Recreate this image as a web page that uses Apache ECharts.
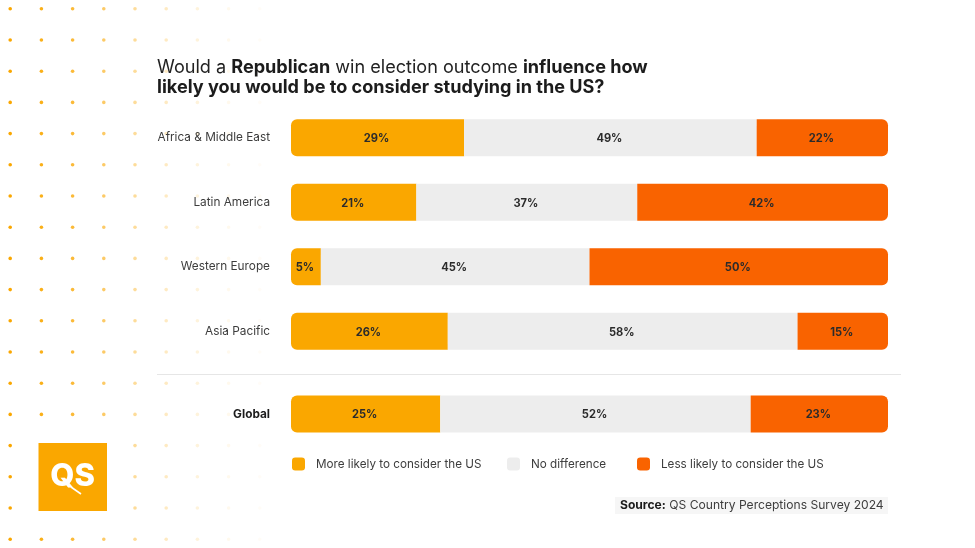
<!DOCTYPE html>
<html><head><meta charset="utf-8">
<style>html,body{margin:0;padding:0;background:#fff}#c{width:975px;height:548px}</style>
<script src="https://cdn.jsdelivr.net/npm/echarts@6/dist/echarts.min.js"></script></head>
<body><div id="c"></div>
<script>
const regions = ['Africa & Middle East','Latin America','Western Europe','Asia Pacific'];
const regionMore = [29,21,5,26];
const regionSame = [49,37,45,58];
const regionLess = [22,42,50,15];
const globalName = ['Global'];
const globalMore = [25];
const globalSame = [52];
const globalLess = [23];
const seriesNames = ['More likely to consider the US','No difference','Less likely to consider the US'];
const seriesColors = ['#FAA700','#EDEDED','#F96300'];
const legendLefts = [287, 502, 632];
const FONT = 'Inter, "Open Sans", sans-serif';

// Printed shares are rounded (Asia Pacific sums to 99), so every bar is scaled to fill its row.
const share = (cols) => cols[0].map((_, i) => {
  const total = cols.reduce((s, c) => s + c[i], 0);
  return cols.map(c => ({ value: c[i] / total * 100, printed: c[i] }));
});
const mk = (cols, axisIndex) => {
  const rows = share(cols);
  return seriesNames.map((name, k) => ({
    name, type: 'bar', stack: 'g' + axisIndex, xAxisIndex: axisIndex, yAxisIndex: axisIndex,
    barWidth: 37, animation: false,
    itemStyle: { color: seriesColors[k], borderRadius: k === 0 ? [6,0,0,6] : k === 2 ? [0,6,6,0] : 0 },
    label: { show: true, position: 'inside', offset: [-1,1], fontFamily: FONT, fontSize: 11.1, fontWeight: 700, color: '#2b2b2b',
             formatter: p => p.data.printed + '%' },
    data: rows.map(r => r[k])
  }));
};

const dots = [];
const fade = [1,.9,.78,.6,.4,.24,.14,.07,.03];
for (let c = 0; c < fade.length; c++) for (let r = 0; r < 18; r++) {
  dots.push({ type: 'circle', silent: true, z: -1,
    shape: { cx: 10.2 + c * 31.2, cy: 8.8 + r * 31.2, r: 1.8 },
    style: { fill: '#FAA700', opacity: fade[c] } });
}

const chart = echarts.init(document.getElementById('c'), null, { renderer: 'canvas' });
chart.setOption({
  backgroundColor: '#fff',
  textStyle: { fontFamily: FONT },
  title: [{
    left: 152, top: 52,
    text: '{r|Would a }{b|Republican}{r| win election outcome }{b|influence how}\n{b|likely you would be to consider studying in the US?}',
    textStyle: { rich: {
      r: { fontFamily: FONT, fontSize: 18.1, fontWeight: 400, color: '#222', lineHeight: 20.5 },
      b: { fontFamily: FONT, fontSize: 18.1, fontWeight: 700, color: '#1c1c1c', lineHeight: 20.5 }
    } }
  }],
  grid: [
    { left: 291, right: 87, top: 105.5, height: 258 },
    { left: 291, right: 87, top: 381.75, height: 64.5 }
  ],
  xAxis: [0,1].map(i => ({ type: 'value', gridIndex: i, min: 0, max: 100, show: false })),
  yAxis: [
    { type: 'category', gridIndex: 0, data: regions, inverse: true,
      axisLine: { show: false }, axisTick: { show: false },
      axisLabel: { margin: 21, fontFamily: FONT, fontSize: 11.8, color: '#3d3d3d' } },
    { type: 'category', gridIndex: 1, data: globalName, inverse: true,
      axisLine: { show: false }, axisTick: { show: false },
      axisLabel: { margin: 21, fontFamily: FONT, fontSize: 11.8, fontWeight: 700, color: '#1c1c1c' } }
  ],
  legend: seriesNames.map((name, k) => ({
    left: legendLefts[k], top: 452.5, selectedMode: false, data: [name],
    icon: 'roundRect', itemWidth: 13, itemHeight: 13,
    textStyle: { fontFamily: FONT, fontSize: 11.7, color: '#3d3d3d', padding: [0,0,0,6] }
  })),
  series: [...mk([regionMore, regionSame, regionLess], 0), ...mk([globalMore, globalSame, globalLess], 1)],
  graphic: [
    ...dots,
    { type: 'line', silent: true, shape: { x1: 157, y1: 374.5, x2: 901, y2: 374.5 }, style: { stroke: '#E6E6E6', lineWidth: 1 } },
    { type: 'rect', silent: true, shape: { x: 615, y: 497, width: 273, height: 17 }, style: { fill: '#F6F6F6' } },
    { type: 'text', silent: true, x: 620, y: 498, style: {
        text: '{b|Source:}{r| QS Country Perceptions Survey 2024}',
        rich: { b: { fontFamily: FONT, fontSize: 12.1, fontWeight: 700, fill: '#1c1c1c', lineHeight: 15 },
                r: { fontFamily: FONT, fontSize: 12.1, fill: '#3d3d3d', lineHeight: 15 } } } },
    { type: 'rect', silent: true, z: 2, shape: { x: 38.5, y: 443, width: 68.5, height: 68 }, style: { fill: '#FAA700' } },
    { type: 'text', silent: true, z: 3, x: 72.5, y: 477, style: {
        text: 'QS', fill: '#fff', font: '800 31px ' + FONT, align: 'center', verticalAlign: 'middle' } },
    { type: 'line', silent: true, z: 3, shape: { x1: 71, y1: 487, x2: 81, y2: 494 }, style: { stroke: '#fff', lineWidth: 1.6 } }
  ]
});
</script></body></html>
